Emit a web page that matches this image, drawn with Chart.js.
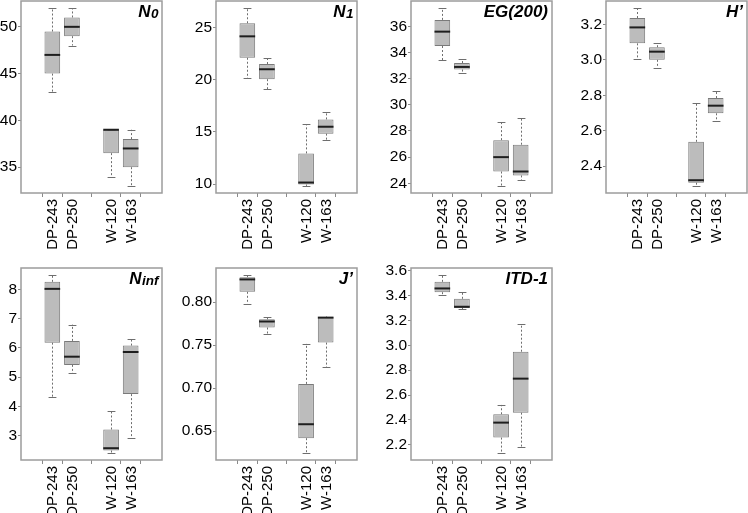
<!DOCTYPE html>
<html>
<head>
<meta charset="utf-8">
<script src="https://cdn.jsdelivr.net/npm/chart.js@4.4.1/dist/chart.umd.min.js"></script>
<style>
  body { margin: 0; width: 748px; height: 513px; overflow: hidden; background: #fff; position: relative; }
  canvas { position: absolute; }
</style>
</head>
<body>
<script>
// grupos e posições no eixo x (posição 3 fica vazia)
const groups = ['DP-243', 'DP-250', 'W-120', 'W-163'];
const groupPos = [1, 2, 4, 5];

// cada caixa: [min, q1, mediana, q3, max]
const n0Stats = [[43, 45, 47, 49.5, 52], [48, 49, 50, 51, 52], [34, 36.5, 39, 39, 39], [33, 35, 37, 38, 39]];
const n1Stats = [[20.15, 22.1, 24.15, 25.4, 26.85], [19.1, 20.05, 21.0, 21.5, 22.1], [9.84, 9.97, 10.16, 12.95, 15.75], [14.24, 14.84, 15.5, 16.2, 16.9]];
const egStats = [[33.4, 34.5, 35.6, 36.5, 37.4], [32.4, 32.7, 32.9, 33.2, 33.5], [23.8, 24.9, 26.0, 27.3, 28.65], [24.25, 24.6, 24.9, 26.95, 29.0]];
const hStats = [[3.005, 3.093, 3.183, 3.236, 3.292], [2.955, 3.0, 3.046, 3.071, 3.095], [2.288, 2.306, 2.32, 2.537, 2.756], [2.657, 2.698, 2.741, 2.784, 2.825]];
const ninfStats = [[4.33, 6.18, 8.02, 8.26, 8.49], [5.13, 5.42, 5.70, 6.24, 6.80], [2.41, 2.49, 2.57, 3.21, 3.83], [2.93, 4.42, 5.86, 6.08, 6.30]];
const jStats = [[0.798, 0.812, 0.8264, 0.829, 0.8314], [0.7624, 0.7705, 0.7775, 0.780, 0.783], [0.6248, 0.6419, 0.6581, 0.705, 0.7516], [0.7244, 0.753, 0.782, 0.7826, 0.7833]];
const itdStats = [[3.40, 3.426, 3.456, 3.509, 3.563], [3.29, 3.30, 3.309, 3.373, 3.429], [2.136, 2.259, 2.379, 2.446, 2.521], [2.187, 2.459, 2.732, 2.948, 3.167]];

// rótulos do eixo y
const n0Ticks = [35, 40, 45, 50];
const n1Ticks = [10, 15, 20, 25];
const egTicks = [24, 26, 28, 30, 32, 34, 36];
const hTicks = [2.4, 2.6, 2.8, 3.0, 3.2];
const ninfTicks = [3, 4, 5, 6, 7, 8];
const jTicks = [0.65, 0.70, 0.75, 0.80];
const itdTicks = [2.2, 2.4, 2.6, 2.8, 3.0, 3.2, 3.4, 3.6];

const paineis = [
  { title: 'N', sub: '0', stats: n0Stats, ticks: n0Ticks, dec: 0, left: 21, top: 1 },
  { title: 'N', sub: '1', stats: n1Stats, ticks: n1Ticks, dec: 0, left: 216, top: 1 },
  { title: 'EG(200)', sub: '', stats: egStats, ticks: egTicks, dec: 0, left: 411, top: 1 },
  { title: 'H\u2019', sub: '', stats: hStats, ticks: hTicks, dec: 1, left: 606, top: 1 },
  { title: 'N', sub: 'inf', stats: ninfStats, ticks: ninfTicks, dec: 0, left: 21, top: 268 },
  { title: 'J\u2019', sub: '', stats: jStats, ticks: jTicks, dec: 2, left: 216, top: 268 },
  { title: 'ITD-1', sub: '', stats: itdStats, ticks: itdTicks, dec: 1, left: 411, top: 268 }
];

const FONTE = '"Liberation Sans", Arial, sans-serif';
const YW = 60, PADT = 12, PADR = 10, FW = 141, FH = 192, XH = 57;

const boxPlugin = {
  id: 'boxExtras',
  beforeDatasetsDraw(chart) {
    const ctx = chart.ctx;
    const xs = chart.scales.x, ys = chart.scales.y;
    const stats = chart.options.plugins.boxExtras.stats;
    const meta = chart.getDatasetMeta(0);
    ctx.save();
    stats.forEach((s, i) => {
      const x = Math.round(xs.getPixelForValue(groupPos[i])) + 0.5;
      const cap = meta.data[i].width / 4;
      ctx.strokeStyle = '#6e6e6e';
      ctx.lineWidth = 1;
      ctx.setLineDash([2, 2]);
      ctx.beginPath();
      ctx.moveTo(x, ys.getPixelForValue(s[3]));
      ctx.lineTo(x, ys.getPixelForValue(s[4]));
      ctx.moveTo(x, ys.getPixelForValue(s[1]));
      ctx.lineTo(x, ys.getPixelForValue(s[0]));
      ctx.stroke();
      ctx.setLineDash([]);
      ctx.beginPath();
      [s[0], s[4]].forEach(v => {
        const y = Math.round(ys.getPixelForValue(v)) + 0.5;
        ctx.moveTo(x - cap, y);
        ctx.lineTo(x + cap, y);
      });
      ctx.stroke();
    });
    ctx.restore();
  },
  afterDatasetsDraw(chart) {
    const ctx = chart.ctx;
    const xs = chart.scales.x, ys = chart.scales.y;
    const opts = chart.options.plugins.boxExtras;
    const meta = chart.getDatasetMeta(0);
    const a = chart.chartArea;
    ctx.save();
    // medianas
    ctx.strokeStyle = '#1e1e1e';
    ctx.lineWidth = 2;
    opts.stats.forEach((s, i) => {
      const x = xs.getPixelForValue(groupPos[i]);
      const hw = meta.data[i].width / 2;
      const y = ys.getPixelForValue(s[2]);
      ctx.beginPath();
      ctx.moveTo(x - hw, y);
      ctx.lineTo(x + hw, y);
      ctx.stroke();
    });
    // moldura
    ctx.strokeStyle = '#9c9c9c';
    ctx.lineWidth = 1.5;
    ctx.strokeRect(a.left, a.top, a.right - a.left, a.bottom - a.top);
    // título
    ctx.fillStyle = '#000';
    ctx.textBaseline = 'alphabetic';
    ctx.textAlign = 'left';
    const fMain = 'italic bold 17px ' + FONTE;
    const fSub = 'italic bold 13.5px ' + FONTE;
    ctx.font = fSub;
    const wSub = opts.sub ? ctx.measureText(opts.sub).width : 0;
    ctx.font = fMain;
    const wMain = ctx.measureText(opts.title).width;
    const x0 = a.right - 4 - wSub - wMain;
    const yb = a.top + 16;
    ctx.fillText(opts.title, x0, yb);
    if (opts.sub) {
      ctx.font = fSub;
      ctx.fillText(opts.sub, x0 + wMain + 0.5, yb + 1);
    }
    ctx.restore();
  }
};

paineis.forEach(p => {
  const canvas = document.createElement('canvas');
  const W = YW + FW + PADR, H = PADT + FH + XH;
  canvas.width = W;
  canvas.height = H;
  canvas.style.left = (p.left - YW) + 'px';
  canvas.style.top = (p.top - PADT) + 'px';
  document.body.appendChild(canvas);

  // faixa do eixo y como no R: extremos dos dados + 4%
  let lo = Math.min(...p.stats.map(s => s[0]));
  let hi = Math.max(...p.stats.map(s => s[4]));
  const pad = (hi - lo) * 0.04;

  new Chart(canvas.getContext('2d'), {
    type: 'bar',
    data: {
      datasets: [{
        data: p.stats.map((s, i) => ({ x: groupPos[i], y: [s[1], s[3]] })),
        backgroundColor: '#bcbcbc',
        borderColor: '#7a7a7a',
        borderWidth: 1,
        borderSkipped: false,
        categoryPercentage: 0.8,
        barPercentage: 1
      }]
    },
    options: {
      responsive: false,
      animation: false,
      devicePixelRatio: 1,
      layout: { padding: { top: PADT, right: PADR, left: 0, bottom: 0 } },
      plugins: {
        legend: { display: false },
        tooltip: { enabled: false },
        boxExtras: { stats: p.stats, title: p.title, sub: p.sub }
      },
      scales: {
        x: {
          type: 'linear',
          min: 0.3,
          max: 5.7,
          afterBuildTicks: axis => { axis.ticks = groupPos.map(v => ({ value: v })); },
          afterFit: axis => { axis.height = XH; },
          ticks: {
            callback: v => groups[groupPos.indexOf(v)],
            minRotation: 90,
            maxRotation: 90,
            autoSkip: false,
            padding: 2,
            labelOffset: 1,
            color: '#000',
            font: { family: FONTE, size: 15 }
          },
          grid: { drawOnChartArea: false, drawTicks: true, tickLength: 4, color: '#8a8a8a' },
          border: { display: false }
        },
        y: {
          min: lo - pad,
          max: hi + pad,
          afterBuildTicks: axis => { axis.ticks = p.ticks.map(v => ({ value: v })); },
          afterFit: axis => { axis.width = YW; },
          ticks: {
            callback: v => v.toFixed(p.dec),
            padding: 1,
            color: '#000',
            font: { family: FONTE, size: 15.5 }
          },
          grid: { drawOnChartArea: false, drawTicks: true, tickLength: 3, color: '#8a8a8a' },
          border: { display: false }
        }
      }
    },
    plugins: [boxPlugin]
  });
});
</script>
</body>
</html>
